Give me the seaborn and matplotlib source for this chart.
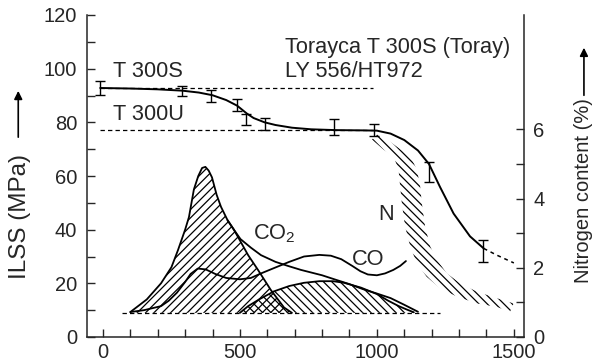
import numpy as np
import matplotlib
matplotlib.use("Agg")
import matplotlib.pyplot as plt
from matplotlib.ticker import MultipleLocator, FixedLocator
import seaborn as sns

# ILSS main curve (MPa) vs temperature (deg C)
ilss_T = [-10, 100, 200, 290, 350, 400, 450, 490, 525, 550, 590, 630, 690, 760, 850, 950, 1000,
          1050, 1100, 1150, 1190, 1230, 1280, 1340, 1390]
ilss_val = [92.8, 92.6, 92.3, 91.8, 91.1, 90.1, 88.3, 86.2, 83.3, 81.6, 80.0, 79.0, 78.0, 77.4,
            77.1, 77.0, 76.9, 75.8, 73.4, 69.5, 64.5, 56.0, 46.0, 37.5, 33.0]
ilss_ext_T = [1390, 1440, 1500]
ilss_ext_val = [33.0, 30.4, 27.6]

# error bars
eb_T = [-10, 288, 395, 488, 523, 590, 842, 990, 1191, 1388]
eb_val = [92.8, 91.7, 89.9, 86.5, 81.0, 79.3, 78.3, 77.1, 61.5, 32.0]
eb_err = [2.7, 1.7, 2.2, 2.1, 2.0, 2.2, 3.0, 2.1, 3.7, 4.1]

# reference levels
ref_T = [-10, 985]
t300s_val = [92.8, 92.8]
t300u_val = [77.1, 77.1]

# gas evolution curves (arbitrary units on ILSS scale)
base_T = [70, 1230]
base_val = [9.0, 9.0]

peak_T = [100, 160, 212, 250, 274, 300, 314, 332, 348, 362, 374, 386, 398, 415, 431, 455, 478,
          500, 530, 566, 613, 661, 690]
peak_val = [9.3, 14.0, 20.0, 26.0, 32.4, 40.0, 44.7, 55.0, 60.0, 63.0, 63.4, 62.0, 59.5, 53.0,
            48.5, 43.5, 40.0, 36.0, 30.5, 25.0, 17.5, 11.0, 9.0]

co2_T = [455, 478, 502, 540, 577, 630, 675, 723, 800, 845, 900, 950, 1000, 1050, 1100, 1150]
co2_val = [43.5, 40.0, 36.5, 33.3, 30.5, 28.0, 26.5, 25.0, 23.0, 21.5, 19.7, 17.8, 16.2, 14.5,
           12.0, 9.4]

co_T = [100, 150, 212, 240, 270, 300, 320, 346, 375, 410, 450, 500, 540, 577, 620, 680, 734,
        790, 832, 870, 910, 940, 967, 1000, 1030, 1060, 1085, 1106]
co_val = [9.3, 10.0, 11.5, 13.5, 16.5, 20.5, 23.5, 25.5, 25.2, 23.5, 22.0, 21.5, 22.0, 23.7,
          25.5, 28.0, 30.0, 30.6, 30.3, 29.0, 26.5, 24.5, 23.3, 23.0, 23.7, 25.0, 26.5, 28.3]

hump_T = [500, 530, 570, 624, 680, 734, 790, 840, 880, 942, 1000, 1040, 1080, 1110, 1135]
hump_val = [9.0, 11.5, 14.0, 17.0, 19.0, 20.2, 20.8, 20.8, 20.2, 18.4, 16.0, 13.6, 11.5, 10.2, 9.2]

# nitrogen content band (%), right axis
band_hi_T = [1006, 1073, 1122, 1146, 1158, 1164, 1176, 1195, 1219, 1255, 1304, 1365, 1438, 1499]
band_hi_N = [5.89, 5.50, 5.22, 4.84, 4.35, 3.87, 3.19, 2.61, 2.23, 1.84, 1.55, 1.31, 1.12, 0.97]
band_lo_T = [982, 1024, 1061, 1079, 1085, 1091, 1103, 1122, 1146, 1182, 1231, 1292, 1365, 1438, 1486]
band_lo_N = [5.71, 5.42, 5.22, 4.84, 4.35, 3.87, 3.19, 2.61, 2.13, 1.74, 1.41, 1.17, 0.97, 0.87, 0.73]

sns.set_style("ticks")
plt.rcParams['font.family'] = ['Liberation Sans', 'DejaVu Sans']
plt.rcParams['mathtext.default'] = 'regular'
plt.rcParams['hatch.linewidth'] = 0.9

fig = plt.figure(figsize=(5.95, 3.61), dpi=100)
ax = fig.add_axes([86.5 / 595, 24 / 361, 437.5 / 595, 322 / 361])
ax2 = ax.twinx()

dash = (0, (3.5, 2.5))

# hatched gas regions
ax.fill_between(peak_T, 9.0, peak_val, facecolor='none', edgecolor='k',
                hatch='////', linewidth=0)
ax.fill_between(hump_T, 9.0, hump_val, facecolor='none', edgecolor='k',
                hatch='\\\\\\\\', linewidth=0)

sns.lineplot(x=base_T, y=base_val, ax=ax, color='k', lw=0.9, linestyle=dash)
for xs, ys in [(peak_T, peak_val), (co2_T, co2_val), (co_T, co_val), (hump_T, hump_val)]:
    sns.lineplot(x=xs, y=ys, ax=ax, color='k', lw=1.3, sort=False, estimator=None)

# ILSS
sns.lineplot(x=ref_T, y=t300s_val, ax=ax, color='k', lw=0.9, linestyle=dash)
sns.lineplot(x=ref_T, y=t300u_val, ax=ax, color='k', lw=0.9, linestyle=dash)
sns.lineplot(x=ilss_T, y=ilss_val, ax=ax, color='k', lw=1.4, sort=False, estimator=None)
sns.lineplot(x=ilss_ext_T, y=ilss_ext_val, ax=ax, color='k', lw=1.1, linestyle=(0, (2.5, 2.5)))
ax.errorbar(eb_T, eb_val, yerr=eb_err, fmt='none', ecolor='k', elinewidth=1.0,
            capsize=3.6, capthick=1.0)

# nitrogen band
ax2.fill(band_hi_T + band_lo_T[::-1], band_hi_N + band_lo_N[::-1], facecolor='none',
         edgecolor='k', hatch='\\\\\\\\', linewidth=0)

# labels inside
fs = 15.7
ax.text(38, 96.9, 'T 300S', fontsize=fs, ha='left', va='baseline')
ax.text(38, 80.9, 'T 300U', fontsize=fs, ha='left', va='baseline')
ax.text(665, 105.8, 'Torayca T 300S (Toray)', fontsize=fs, ha='left', va='baseline')
ax.text(665, 96.9, 'LY 556/HT972', fontsize=fs, ha='left', va='baseline')
ax.text(549, 36.2, 'CO$_2$', fontsize=fs, ha='left', va='baseline')
ax.text(910, 26.8, 'CO', fontsize=fs, ha='left', va='baseline')
ax.text(1005, 43.6, 'N', fontsize=fs, ha='left', va='baseline')

# axes
ax.set_xlim(-60, 1537)
ax.set_ylim(0, 120)
ax2.set_ylim(0, 9.31)
ax.xaxis.set_major_locator(FixedLocator([0, 500, 1000, 1500]))
ax.xaxis.set_minor_locator(MultipleLocator(100))
ax.yaxis.set_major_locator(MultipleLocator(20))
ax.yaxis.set_minor_locator(MultipleLocator(10))
ax2.yaxis.set_major_locator(FixedLocator([0, 2, 4, 6]))
ax2.yaxis.set_minor_locator(FixedLocator([1, 3, 5]))
ax.set_xlabel('')
ax.set_ylabel('')
ax2.set_ylabel('')

for a in (ax, ax2):
    a.spines['top'].set_visible(False)
    for s in a.spines.values():
        s.set_linewidth(1.1)
ax.spines['right'].set_visible(False)
ax2.spines['left'].set_visible(False)
ax2.spines['bottom'].set_visible(False)

ax.tick_params(axis='both', which='both', direction='in', length=5.8, width=1.0,
               labelsize=14.5, top=False, right=False)
ax.tick_params(axis='x', pad=4.0)
ax.tick_params(axis='y', pad=6.8)
ax2.tick_params(axis='y', which='both', direction='in', length=5.8, width=1.0,
                labelsize=14.5, pad=6.5)

# axis titles with arrows
ax.text(-0.152, 0.374, 'ILSS (MPa)', transform=ax.transAxes, rotation=90,
        ha='center', va='center', fontsize=17.5)
ax.annotate('', xy=(-0.156, 0.773), xytext=(-0.156, 0.612), xycoords='axes fraction',
            arrowprops=dict(arrowstyle='-|>', color='k', lw=1.2, mutation_scale=12))
ax.text(1.137, 0.455, 'Nitrogen content (%)', transform=ax.transAxes, rotation=90,
        ha='center', va='center', fontsize=14.5)
ax.annotate('', xy=(1.137, 0.907), xytext=(1.137, 0.742), xycoords='axes fraction',
            arrowprops=dict(arrowstyle='-|>', color='k', lw=1.2, mutation_scale=12))

fig.savefig('out.png', dpi=100)
